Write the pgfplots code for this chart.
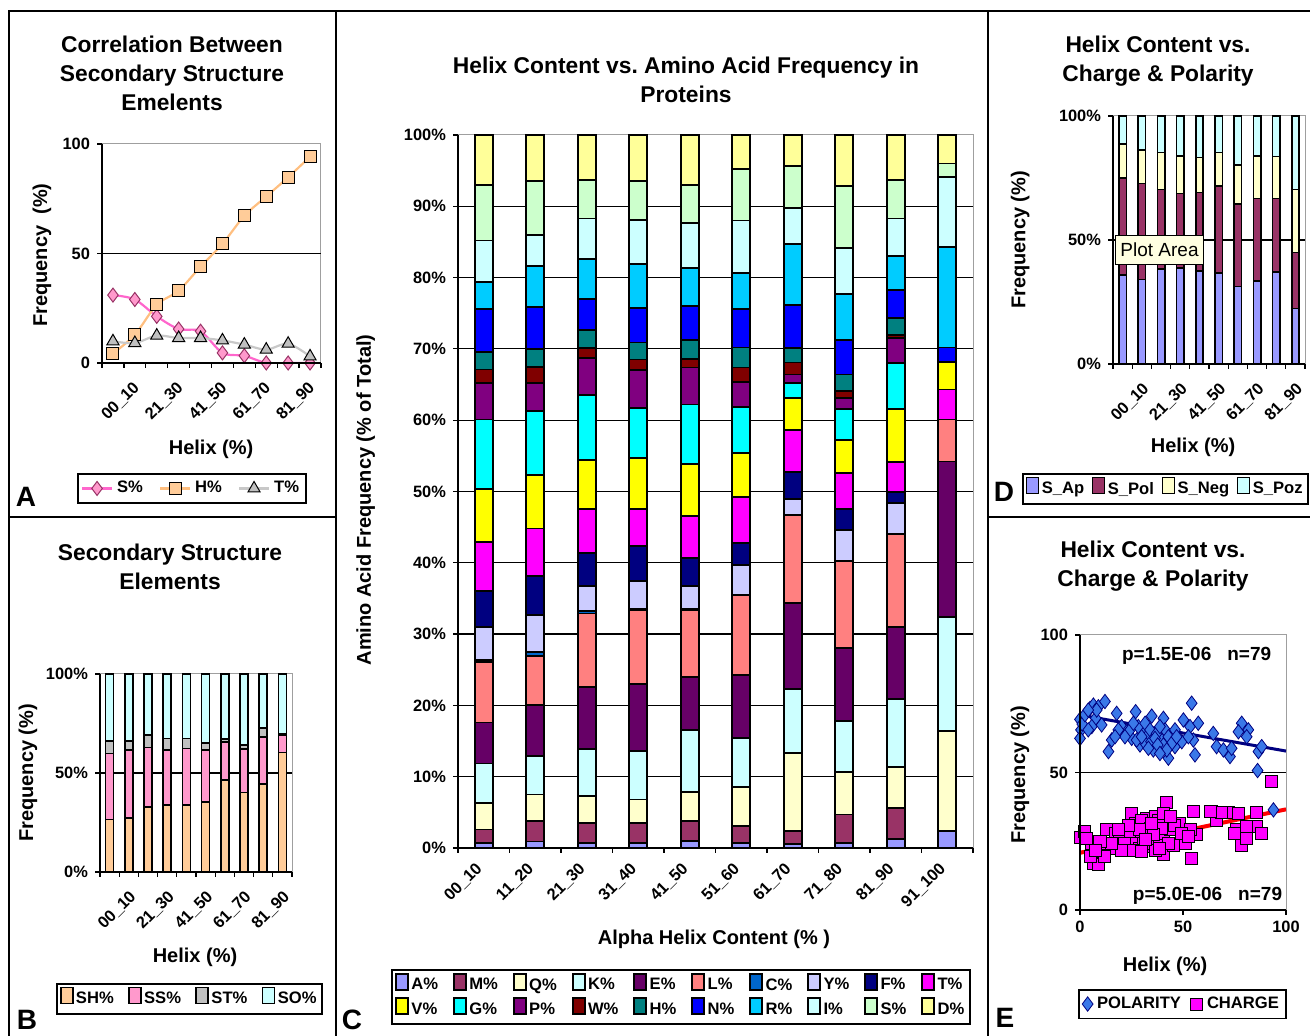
\documentclass[border=0pt]{standalone}
\usepackage{pgfplots}
\pgfplotsset{compat=1.18}
\usepackage{pgfplotstable}
\usepackage{fontspec}
\setmainfont{Liberation Sans}
\frenchspacing

\definecolor{cA}{HTML}{9999FF}
\definecolor{cM}{HTML}{993366}
\definecolor{cQ}{HTML}{FFFFCC}
\definecolor{cK}{HTML}{CCFFFF}
\definecolor{cE}{HTML}{660066}
\definecolor{cL}{HTML}{FF8080}
\definecolor{cC}{HTML}{0066CC}
\definecolor{cY}{HTML}{CCCCFF}
\definecolor{cF}{HTML}{000080}
\definecolor{cT}{HTML}{FF00FF}
\definecolor{cV}{HTML}{FFFF00}
\definecolor{cG}{HTML}{00FFFF}
\definecolor{cP}{HTML}{800080}
\definecolor{cW}{HTML}{800000}
\definecolor{cH}{HTML}{008080}
\definecolor{cN}{HTML}{0000FF}
\definecolor{cR}{HTML}{00CCFF}
\definecolor{cI}{HTML}{CCFFFF}
\definecolor{cS}{HTML}{CCFFCC}
\definecolor{cD}{HTML}{FFFF99}
\definecolor{sh}{HTML}{FFCC99}
\definecolor{ss}{HTML}{FF99CC}
\definecolor{st}{HTML}{C0C0C0}
\definecolor{so}{HTML}{CCFFFF}
\definecolor{pinkline}{HTML}{FF66CC}
\definecolor{orangeline}{HTML}{FFBF80}
\definecolor{grayline}{HTML}{C8C8C8}
\definecolor{polblue}{HTML}{3A78E8}
\definecolor{navy}{HTML}{000080}
\definecolor{tip}{HTML}{FFFFE1}

\pgfplotstableread{
x A M Q K E L C Y F T V G P W H N R I S D
0 0.7 1.9 3.75 5.5 5.75 8.5 0.3 4.6 5.0 6.9 7.5 9.7 5.1 1.9 2.5 6.0 3.8 5.8 7.8 7.0
1 0.9 2.9 3.7 5.4 7.1 6.9 0.6 5.2 5.4 6.7 7.5 9.0 3.9 2.3 2.5 5.9 5.7 4.4 7.6 6.4
2 0.7 2.8 3.8 6.6 8.7 10.3 0.3 3.6 4.6 6.1 6.9 9.1 5.2 1.4 2.6 4.3 5.6 5.7 5.4 6.3
3 0.7 2.8 3.3 6.8 9.4 10.4 0.2 3.8 5.0 5.1 7.2 7.0 5.3 1.5 2.4 4.8 6.2 6.2 5.4 6.5
4 1.0 2.8 4.0 8.7 7.5 9.4 0.2 3.2 3.9 5.9 7.3 8.3 5.2 1.2 2.7 4.7 5.3 6.3 5.4 7.0
5 0.7 2.4 5.5 6.8 8.9 11.2 0 4.2 3.1 6.4 6.2 6.4 3.6 2.0 2.8 5.4 5.0 7.4 7.2 4.8
6 0.6 1.8 10.9 9.0 12.1 12.3 0 2.3 3.7 5.9 4.5 2.1 1.2 1.7 2.0 6.1 8.5 5.1 5.8 4.4
7 0.7 4.0 6.0 7.1 10.2 12.2 0 4.4 3.0 5.0 4.6 4.4 1.5 1.0 2.3 4.9 6.4 6.4 8.8 7.1
8 1.3 4.3 5.8 9.5 10.1 13.0 0 4.4 1.5 4.2 7.5 6.4 3.5 0.5 2.3 4.0 4.7 5.3 5.4 6.3
9 2.4 0 14.0 16.0 21.8 5.9 0 0 0 4.2 3.9 0 0 0 0 2.0 14.1 9.8 1.9 4.0
}\aminotable

\pgfplotstableread{
x SH SS ST SO
0 26.5 33.4 6.4 33.7
1 27.3 34.3 4.7 33.7
2 32.9 30.0 6.2 30.9
3 33.7 27.9 5.9 32.5
4 33.7 28.7 5.1 32.5
5 35.5 26.1 3.6 34.8
6 46.5 19.3 1.4 32.8
7 40.2 21.8 2.1 35.9
8 44.3 24.0 4.3 27.4
9 60.3 8.9 0.5 30.3
}\sstable

\pgfplotstableread{
x Ap Pol Neg Poz
0 35.9 39.2 13.5 11.4
1 34.1 38.7 13.5 13.7
2 38.2 32.2 14.9 14.7
3 38.8 30.0 15.1 16.1
4 37.6 31.5 14.1 16.8
5 36.6 35.2 13.5 14.7
6 31.2 33.3 15.7 19.8
7 33.5 33.3 17.1 16.1
8 37.0 29.7 16.9 16.4
9 22.4 22.5 25.5 29.6
}\chargetable

\pgfplotstableread{
x y
0 69.3
0.5 65.5
0 62.4
1.1 67.6
4.9 73.3
6.5 74.5
8.9 73.9
12.1 75.8
7.6 69.7
5.7 66.7
10.5 67.3
17.8 71.5
13.8 57.6
15.4 61.8
20.2 66.7
22.7 64.8
27.0 72.1
25.1 62.4
29.9 65.5
29.1 60.0
34.8 70.5
32.4 63.0
36.4 60.6
38.0 58.2
35.6 58.2
40.5 69.7
41.3 65.5
42.9 55.2
39.6 61.8
46.1 59.4
49.4 61.2
46.1 65.5
50.2 69.1
54.2 75.2
53.4 66.7
57.4 67.9
55.0 61.8
55.8 56.4
64.7 64.2
66.3 59.4
69.6 58.2
72.8 55.8
78.5 67.9
76.9 64.8
81.7 65.5
80.9 63.0
86.6 57.6
88.2 59.4
86.2 50.7
93.9 36.4
28.3 66.7
31.6 67.9
34.0 65.5
37.2 64.2
38.8 66.7
42.9 63.0
44.5 60.6
31.6 60.6
27.5 61.8
24.3 65.5
21.8 63.0
4.0 65.5
2.4 71.0
8.1 72.7
34.5 61.2
36.4 62.4
40.5 60.0
42.1 58.2
46.9 63.0
29.9 63.0
25.9 67.9
18.6 65.5
33.2 58.8
37.7 60.0
4.0 72.7
73.6 58.8
17.0 63.0
52.6 63.0
38.8 56.9
}\poltable

\pgfplotstableread{
x y
0 26.4
2.4 28.7
5.7 24.2
6.5 17.0
8.9 16.4
4.9 19.4
12.1 19.4
11.3 24.2
12.9 29.1
17.8 22.4
17.0 27.9
19.4 25.5
21.8 29.1
25.1 35.2
24.3 27.3
26.7 24.2
29.1 22.4
30.0 28.5
32.4 33.3
33.2 26.7
34.8 23.0
37.2 30.3
36.4 33.9
38.8 25.5
40.5 27.9
40.5 20.0
42.1 39.0
41.3 32.7
43.7 29.1
45.3 23.6
48.5 31.5
51.0 24.2
54.2 18.8
55.0 35.8
56.6 27.3
53.4 29.1
63.9 35.8
66.3 32.7
72.0 35.4
76.9 35.2
76.0 29.1
78.5 23.6
80.9 26.1
85.8 35.4
85.8 30.3
88.2 27.9
93.0 46.7
80.9 30.3
26.7 31.5
30.0 32.7
30.8 24.2
34.0 29.7
38.0 32.7
39.6 29.7
36.4 21.8
29.1 29.1
21.8 24.2
20.2 21.8
15.4 24.2
9.7 24.8
7.3 21.8
46.1 30.9
35.6 27.3
31.6 25.5
23.5 30.9
18.6 29.1
42.9 24.2
49.4 27.9
52.6 26.7
25.9 21.8
40.5 35.2
34.8 31.5
30.0 21.2
68.8 35.4
63.1 35.8
75.2 27.9
3.2 26.1
38.8 22.4
43.7 33.9
}\chgtable

\pgfplotsset{
  excel/.style={
    scale only axis,
    anchor=south west,
    axis line style={draw=gray!75, line width=0.5pt},
    tick style={black, line width=0.6pt},
    tick align=outside,
    xtick pos=left, ytick pos=left,
    major tick length=0pt,
    minor tick length=2.5pt,
    ticklabel style={font=\fontsize{8.2}{9}\selectfont\bfseries},
    yticklabel style={xshift=-2.5pt},
    /pgf/number format/assume math mode=true,
    label style={font=\fontsize{10}{12}\selectfont\bfseries},
    legend style={font=\fontsize{8.3}{10}\selectfont\bfseries, draw=black, line width=0.8pt, inner sep=1.5pt},
    legend cell align=left,
    extra y tick labels={},
    extra y tick style={grid=major, major grid style={black, line width=0.6pt}},
    extra description/.code={\draw[black, line width=0.7pt] (rel axis cs:0,1) -- (rel axis cs:0,0) -- (rel axis cs:1,0);},
  },
  catx/.style 2 args={
    xmin=-0.5, xmax=9.5,
    minor xtick={-0.5,0.5,...,9.5},
    xticklabel style={xshift=#1, yshift=#2, rotate=45, anchor=east, inner sep=0pt},
  },
  boxlegend/.style={
    legend image code/.code={\draw[##1, line width=0.5pt] (0pt,-2.2pt) rectangle (4.4pt,2.2pt);},
    legend style={nodes={inner xsep=1.2pt}},
  },
}

\begin{document}
\begin{tikzpicture}[x=0.5pt,y=0.5pt]
\path[use as bounding box] (0,0) rectangle (1310,1036);
\clip (0,0) rectangle (1310,1036);

% frame lines
\draw[line width=1pt] (9,0) -- (9,1025) -- (1310,1025);
\draw[line width=1pt] (336,1025) -- (336,0);
\draw[line width=1pt] (988,1025) -- (988,0);
\draw[line width=1pt] (9,519) -- (336,519);
\draw[line width=1pt] (988,519) -- (1310,519);

% titles
\begin{scope}[every node/.style={align=center, font=\fontsize{11.4}{14.5}\selectfont\bfseries}]
\node at (172,963) {Correlation Between\\Secondary Structure\\Emelents};
\node at (170,469.5) {Secondary Structure\\Elements};
\node at (686,956.5) {Helix Content vs. Amino Acid Frequency in\\Proteins};
\node at (1158,974.5) {Helix Content vs.\\Charge \& Polarity};
\node at (1153,469.5) {Helix Content vs.\\Charge \& Polarity};
\end{scope}
\begin{scope}[every node/.style={font=\fontsize{14}{16}\selectfont\bfseries}]
\node at (26,539) {A};
\node at (27,16) {B};
\node at (352,16) {C};
\node at (1004,544) {D};
\node at (1005,18) {E};
\end{scope}

% ---------- A ----------
\begin{axis}[excel, catx={12pt}{-11pt}, at={(51pt,336.5pt)}, width=109.5pt, height=109.5pt,
  ymin=0, ymax=100,
  xtick={0,2,4,6,8}, xticklabels={00\_10,21\_30,41\_50,61\_70,81\_90},
  ytick={0,50,100}, minor ytick={0,50,100}, extra y ticks={50},
  ylabel={Frequency\ \ (\%)}, xlabel={Helix (\%)},
  ylabel style={at={(axis description cs:-0.274,0.493)}, anchor=center},
  xlabel style={at={(axis description cs:0.498,-0.393)}, anchor=center},
  legend columns=3,
  legend style={at={(axis description cs:0.411,-0.573)}, anchor=center,
    /tikz/every even column/.append style={column sep=6pt}},
  legend image code/.code={\draw[#1, mark repeat=2, mark phase=2] plot coordinates {(0pt,0pt)(7.5pt,0pt)(15pt,0pt)};},
]
\addplot[color=pinkline, line width=1.1pt, smooth, tension=0.5, mark=diamond*, mark size=3.5pt,
  mark options={fill=ss, draw=cM, line width=0.5pt}]
  coordinates {(0,31) (1,29) (2,21.3) (3,15.5) (4,14.5) (5,4.6) (6,3.3) (7,0) (8,0) (9,0)};
\addplot[color=orangeline, line width=1.1pt, smooth, tension=0.5, mark=square*, mark size=3pt,
  mark options={fill=sh, draw=black, line width=0.5pt}]
  coordinates {(0,4.3) (1,12.9) (2,26.6) (3,33) (4,44) (5,54.4) (6,67.2) (7,76) (8,84.8) (9,94.2)};
\addplot[color=grayline, line width=1.1pt, smooth, tension=0.5, mark=triangle*, mark size=3.5pt,
  mark options={fill=st, draw=black, line width=0.5pt}]
  coordinates {(0,9.9) (1,9.1) (2,12.5) (3,11.4) (4,11.4) (5,10.3) (6,8.4) (7,6.1) (8,8.8) (9,3.0)};
\legend{S\%,H\%,T\%}
\end{axis}

% ---------- B ----------
\begin{axis}[excel, catx={12pt}{-11pt}, boxlegend, at={(50pt,82pt)}, width=96pt, height=99pt,
  ybar stacked, bar width=4pt,
  ymin=0, ymax=100,
  xtick={0,2,4,6,8}, xticklabels={00\_10,21\_30,41\_50,61\_70,81\_90},
  ytick={0,50,100}, yticklabels={0\%,50\%,100\%}, minor ytick={0,50,100}, extra y ticks={50},
  ylabel={Frequency (\%)}, xlabel={Helix (\%)},
  ylabel style={at={(axis description cs:-0.375,0.5)}, anchor=center},
  xlabel style={at={(axis description cs:0.495,-0.429)}, anchor=center},
  legend columns=4,
  legend style={at={(axis description cs:0.466,-0.641)}, anchor=center,
    /tikz/every even column/.append style={column sep=6pt}},
]
\addplot[fill=sh, draw=black, line width=0.8pt] table[x=x,y=SH]{\sstable};
\addplot[fill=ss, draw=black, line width=0.8pt] table[x=x,y=SS]{\sstable};
\addplot[fill=st, draw=black, line width=0.8pt] table[x=x,y=ST]{\sstable};
\addplot[fill=so, draw=black, line width=0.8pt] table[x=x,y=SO]{\sstable};
\legend{SH\%,SS\%,ST\%,SO\%}
\end{axis}

% ---------- C ----------
\begin{axis}[excel, catx={-2pt}{-9pt}, boxlegend, at={(229pt,94pt)}, width=257.5pt, height=356.5pt,
  ybar stacked, bar width=9pt,
  ymin=0, ymax=100,
  xtick={0,...,9}, xticklabels={00\_10,11\_20,21\_30,31\_40,41\_50,51\_60,61\_70,71\_80,81\_90,91\_100},
  ytick={0,10,...,100}, yticklabels={0\%,10\%,20\%,30\%,40\%,50\%,60\%,70\%,80\%,90\%,100\%},
  minor ytick={0,10,...,100}, extra y ticks={10,20,...,90},
  ylabel={Amino Acid Frequency (\% of Total)}, xlabel={Alpha Helix Content (\% )},
  ylabel style={at={(axis description cs:-0.179,0.488)}, anchor=center},
  xlabel style={at={(axis description cs:0.497,-0.128)}, anchor=center},
  legend columns=10,
  legend style={at={(axis description cs:0.433,-0.209)}, anchor=center,
    /tikz/every even column/.append style={column sep=6.3pt}},
]
\addplot[fill=cA, draw=black, line width=0.9pt] table[x=x,y=A]{\aminotable};
\addplot[fill=cM, draw=black, line width=0.9pt] table[x=x,y=M]{\aminotable};
\addplot[fill=cQ, draw=black, line width=0.9pt] table[x=x,y=Q]{\aminotable};
\addplot[fill=cK, draw=black, line width=0.9pt] table[x=x,y=K]{\aminotable};
\addplot[fill=cE, draw=black, line width=0.9pt] table[x=x,y=E]{\aminotable};
\addplot[fill=cL, draw=black, line width=0.9pt] table[x=x,y=L]{\aminotable};
\addplot[fill=cC, draw=black, line width=0.9pt] table[x=x,y=C]{\aminotable};
\addplot[fill=cY, draw=black, line width=0.9pt] table[x=x,y=Y]{\aminotable};
\addplot[fill=cF, draw=black, line width=0.9pt] table[x=x,y=F]{\aminotable};
\addplot[fill=cT, draw=black, line width=0.9pt] table[x=x,y=T]{\aminotable};
\addplot[fill=cV, draw=black, line width=0.9pt] table[x=x,y=V]{\aminotable};
\addplot[fill=cG, draw=black, line width=0.9pt] table[x=x,y=G]{\aminotable};
\addplot[fill=cP, draw=black, line width=0.9pt] table[x=x,y=P]{\aminotable};
\addplot[fill=cW, draw=black, line width=0.9pt] table[x=x,y=W]{\aminotable};
\addplot[fill=cH, draw=black, line width=0.9pt] table[x=x,y=H]{\aminotable};
\addplot[fill=cN, draw=black, line width=0.9pt] table[x=x,y=N]{\aminotable};
\addplot[fill=cR, draw=black, line width=0.9pt] table[x=x,y=R]{\aminotable};
\addplot[fill=cI, draw=black, line width=0.9pt] table[x=x,y=I]{\aminotable};
\addplot[fill=cS, draw=black, line width=0.9pt] table[x=x,y=S]{\aminotable};
\addplot[fill=cD, draw=black, line width=0.9pt] table[x=x,y=D]{\aminotable};
\legend{A\%,M\%,Q\%,K\%,E\%,L\%,C\%,Y\%,F\%,T\%,V\%,G\%,P\%,W\%,H\%,N\%,R\%,I\%,S\%,D\%}
\end{axis}

% ---------- D ----------
\begin{axis}[excel, catx={12pt}{-11pt}, boxlegend, at={(556.5pt,336pt)}, width=96pt, height=124pt,
  ybar stacked, bar width=3.7pt,
  ymin=0, ymax=100,
  xtick={0,2,4,6,8}, xticklabels={00\_10,21\_30,41\_50,61\_70,81\_90},
  ytick={0,50,100}, yticklabels={0\%,50\%,100\%}, minor ytick={0,50,100}, extra y ticks={50},
  ylabel={Frequency (\%)}, xlabel={Helix (\%)},
  ylabel style={at={(axis description cs:-0.484,0.5)}, anchor=center},
  xlabel style={at={(axis description cs:0.417,-0.335)}, anchor=center},
  legend columns=4,
  legend style={at={(axis description cs:-0.474,-0.504)}, anchor=west,
    /tikz/every even column/.append style={column sep=2.6pt}},
]
\addplot[fill=cA, draw=black, line width=0.8pt] table[x=x,y=Ap]{\chargetable};
\addplot[fill=cM, draw=black, line width=0.8pt] table[x=x,y=Pol]{\chargetable};
\addplot[fill=cQ, draw=black, line width=0.8pt] table[x=x,y=Neg]{\chargetable};
\addplot[fill=cK, draw=black, line width=0.8pt] table[x=x,y=Poz]{\chargetable};
\legend{S\_Ap,S\_Pol,S\_Neg,S\_Poz}
\end{axis}

% ---------- E ----------
\begin{axis}[excel, at={(540pt,63pt)}, width=103pt, height=137.5pt,
  xmin=0, xmax=100, ymin=0, ymax=100,
  xtick={0,50,100}, minor xtick={0,50,100},
  ytick={0,50,100}, minor ytick={0,50,100}, extra y ticks={50},
  xticklabel style={yshift=-2pt},
  ylabel={Frequency (\%)}, xlabel={Helix (\%)},
  ylabel style={at={(axis description cs:-0.291,0.491)}, anchor=center},
  xlabel style={at={(axis description cs:0.413,-0.204)}, anchor=center},
  legend columns=2,
  legend style={at={(axis description cs:0.498,-0.342)}, anchor=center,
    /tikz/every even column/.append style={column sep=3pt}},
]
\addplot[only marks, mark=diamond*, mark size=3.6pt, mark options={fill=polblue, draw=navy, line width=0.4pt}] table[x=x,y=y]{\poltable};
\addplot[only marks, mark=square*, mark size=3pt, mark options={fill=cT, draw=black, line width=0.5pt}] table[x=x,y=y]{\chgtable};
\addplot[navy, line width=1.5pt, forget plot] coordinates {(0,70.9) (100,57.8)};
\addplot[red, line width=2pt, forget plot] coordinates {(0,20.8) (100,36.6)};
\node[font=\fontsize{9.5}{11}\selectfont\bfseries] at (axis description cs:0.566,0.924) {p=1.5E-06\hspace{8pt}n=79};
\node[font=\fontsize{9.5}{11}\selectfont\bfseries] at (axis description cs:0.619,0.051) {p=5.0E-06\hspace{8pt}n=79};
\legend{POLARITY,CHARGE}
\end{axis}

% tooltip in D
\node[draw=black, fill=tip, font=\fontsize{9.5}{11}\selectfont, inner sep=2.5pt, minimum height=14.5pt] at (1159.5,786.5) {Plot Area};
\end{tikzpicture}
\end{document}
